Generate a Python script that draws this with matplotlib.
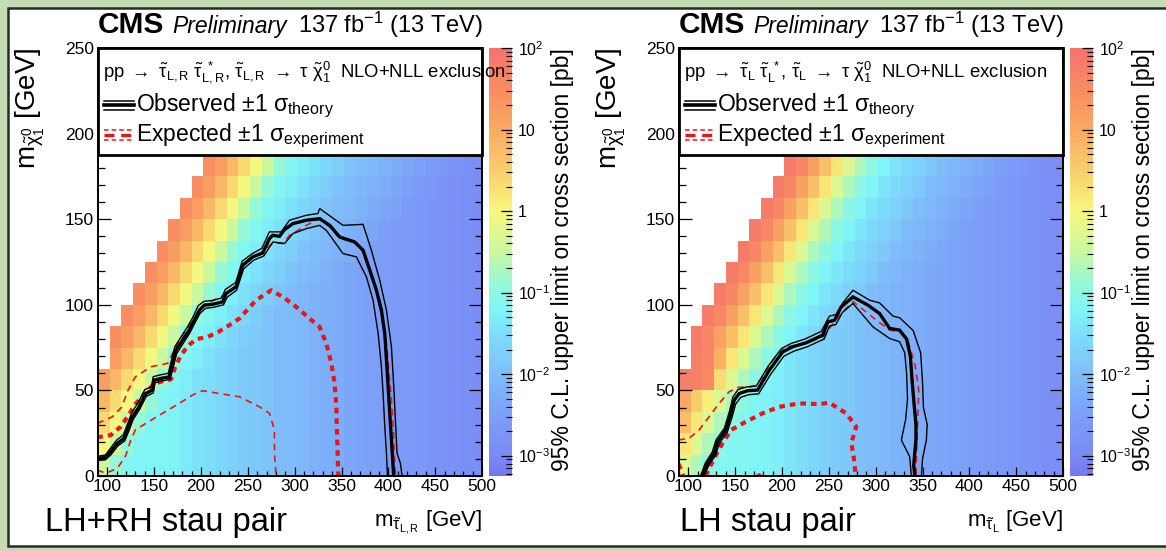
import numpy as np
import matplotlib
matplotlib.use("Agg")
import matplotlib.pyplot as plt
from matplotlib.colors import LinearSegmentedColormap, LogNorm
from matplotlib.patches import Rectangle
from matplotlib.lines import Line2D
from matplotlib.ticker import MultipleLocator, LogLocator, FixedLocator, FixedFormatter

plt.rcParams['font.family'] = ['Liberation Sans', 'DejaVu Sans']
plt.rcParams['mathtext.fontset'] = 'custom'
plt.rcParams['mathtext.rm'] = 'Liberation Sans'
plt.rcParams['mathtext.it'] = 'Liberation Sans:italic'
plt.rcParams['mathtext.bf'] = 'Liberation Sans:bold'
plt.rcParams['mathtext.sf'] = 'Liberation Sans'

# ---------------- data ----------------
# bin grid (GeV)
x_edges = np.arange(90.0, 503.0, 12.5)     # m_stau bins
y_edges = np.arange(0.0, 188.0, 12.5)      # m_LSP bins (visible below legend)

# log10 of 95% CL upper limit [pb], rows = m_LSP bins (bottom -> top), 'nan' = no point
limit_LR_rows = [
 "-0.5 -0.9 -1.15 -1.2 -1.2 -1.2 -1.25 -1.35 -1.45 -1.5 -1.6 -1.7 -1.8 -1.85 -1.9 -2.0 -2.05 -2.1 -2.2 -2.25 -2.3 -2.4 -2.45 -2.5 -2.55 -2.6 -2.65 -2.7 -2.75 -2.8 -2.82 -2.85 -2.9",
 "-0.05 -0.5 -0.9 -1.15 -1.2 -1.2 -1.25 -1.35 -1.45 -1.5 -1.6 -1.7 -1.8 -1.85 -1.9 -2.0 -2.05 -2.1 -2.2 -2.25 -2.3 -2.4 -2.45 -2.5 -2.55 -2.6 -2.65 -2.7 -2.75 -2.8 -2.82 -2.85 -2.9",
 "0.35 -0.05 -0.5 -0.9 -1.15 -1.2 -1.25 -1.35 -1.45 -1.5 -1.6 -1.7 -1.8 -1.85 -1.9 -2.0 -2.05 -2.1 -2.2 -2.25 -2.3 -2.4 -2.45 -2.5 -2.55 -2.6 -2.65 -2.7 -2.75 -2.8 -2.82 -2.85 -2.9",
 "0.8 0.35 -0.05 -0.5 -0.9 -1.15 -1.25 -1.35 -1.45 -1.5 -1.6 -1.7 -1.8 -1.85 -1.9 -2.0 -2.05 -2.1 -2.2 -2.25 -2.3 -2.4 -2.45 -2.5 -2.55 -2.6 -2.65 -2.7 -2.75 -2.8 -2.82 -2.85 -2.9",
 "1.2 0.8 0.35 -0.05 -0.5 -0.9 -1.15 -1.3 -1.45 -1.5 -1.6 -1.7 -1.8 -1.85 -1.9 -2.0 -2.05 -2.1 -2.2 -2.25 -2.3 -2.4 -2.45 -2.5 -2.55 -2.6 -2.65 -2.7 -2.75 -2.8 -2.82 -2.85 -2.9",
 "nan 1.2 0.8 0.35 -0.05 -0.5 -0.9 -1.15 -1.3 -1.45 -1.6 -1.7 -1.8 -1.85 -1.9 -2.0 -2.05 -2.1 -2.2 -2.25 -2.3 -2.4 -2.45 -2.5 -2.55 -2.6 -2.65 -2.7 -2.75 -2.8 -2.82 -2.85 -2.9",
 "nan 1.45 1.2 0.8 0.35 -0.05 -0.5 -0.9 -1.15 -1.3 -1.45 -1.6 -1.75 -1.85 -1.9 -2.0 -2.05 -2.1 -2.2 -2.25 -2.3 -2.4 -2.45 -2.5 -2.55 -2.6 -2.65 -2.7 -2.75 -2.8 -2.82 -2.85 -2.9",
 "nan nan 1.45 1.2 0.8 0.35 -0.05 -0.5 -0.9 -1.15 -1.3 -1.45 -1.6 -1.75 -1.9 -2.0 -2.05 -2.1 -2.2 -2.25 -2.3 -2.4 -2.45 -2.5 -2.55 -2.6 -2.65 -2.7 -2.75 -2.8 -2.82 -2.85 -2.9",
 "nan nan nan 1.45 1.2 0.8 0.35 -0.05 -0.5 -0.9 -1.15 -1.3 -1.45 -1.6 -1.75 -1.9 -2.0 -2.1 -2.2 -2.25 -2.3 -2.4 -2.45 -2.5 -2.55 -2.6 -2.65 -2.7 -2.75 -2.8 -2.82 -2.85 -2.9",
 "nan nan nan nan 1.45 1.2 0.8 0.35 -0.05 -0.5 -0.9 -1.15 -1.3 -1.45 -1.6 -1.75 -1.9 -2.0 -2.1 -2.2 -2.3 -2.4 -2.45 -2.5 -2.55 -2.6 -2.65 -2.7 -2.75 -2.8 -2.82 -2.85 -2.9",
 "nan nan nan nan nan 1.45 1.2 0.8 0.35 -0.05 -0.5 -0.9 -1.15 -1.3 -1.45 -1.6 -1.75 -1.9 -2.0 -2.1 -2.2 -2.3 -2.4 -2.5 -2.55 -2.6 -2.65 -2.7 -2.75 -2.8 -2.82 -2.85 -2.9",
 "nan nan nan nan nan nan 1.45 1.2 0.8 0.35 -0.05 -0.5 -0.9 -1.15 -1.3 -1.45 -1.6 -1.75 -1.9 -2.0 -2.1 -2.2 -2.3 -2.4 -2.5 -2.6 -2.65 -2.7 -2.75 -2.8 -2.82 -2.85 -2.9",
 "nan nan nan nan nan nan nan 1.45 1.2 0.8 0.35 -0.05 -0.5 -0.9 -1.15 -1.3 -1.45 -1.6 -1.75 -1.9 -2.0 -2.1 -2.2 -2.3 -2.4 -2.5 -2.6 -2.7 -2.75 -2.8 -2.82 -2.85 -2.9",
 "nan nan nan nan nan nan nan nan 1.45 1.2 0.8 0.35 -0.05 -0.5 -0.9 -1.15 -1.3 -1.45 -1.6 -1.75 -1.9 -2.0 -2.1 -2.2 -2.3 -2.4 -2.5 -2.6 -2.7 -2.8 -2.82 -2.85 -2.9",
 "nan nan nan nan nan nan nan nan nan 1.45 1.2 0.8 0.35 -0.05 -0.5 -0.9 -1.15 -1.3 -1.45 -1.6 -1.75 -1.9 -2.0 -2.1 -2.2 -2.3 -2.4 -2.5 -2.6 -2.7 -2.8 -2.85 -2.9",
]
limit_L_rows = [
 "-0.3 -0.7 -1.0 -1.1 -1.15 -1.15 -1.2 -1.25 -1.3 -1.4 -1.5 -1.6 -1.7 -1.8 -1.85 -1.95 -2.0 -2.1 -2.15 -2.2 -2.3 -2.35 -2.4 -2.45 -2.5 -2.55 -2.6 -2.65 -2.7 -2.75 -2.8 -2.85 -2.9",
 "0.2 -0.3 -0.7 -1.0 -1.15 -1.15 -1.2 -1.25 -1.3 -1.4 -1.5 -1.6 -1.7 -1.8 -1.85 -1.95 -2.0 -2.1 -2.15 -2.2 -2.3 -2.35 -2.4 -2.45 -2.5 -2.55 -2.6 -2.65 -2.7 -2.75 -2.8 -2.85 -2.9",
 "0.7 0.2 -0.3 -0.7 -1.0 -1.15 -1.2 -1.25 -1.3 -1.4 -1.5 -1.6 -1.7 -1.8 -1.85 -1.95 -2.0 -2.1 -2.15 -2.2 -2.3 -2.35 -2.4 -2.45 -2.5 -2.55 -2.6 -2.65 -2.7 -2.75 -2.8 -2.85 -2.9",
 "1.0 0.5 0.1 -0.3 -0.7 -1.0 -1.2 -1.25 -1.3 -1.4 -1.5 -1.6 -1.7 -1.8 -1.85 -1.95 -2.0 -2.1 -2.15 -2.2 -2.3 -2.35 -2.4 -2.45 -2.5 -2.55 -2.6 -2.65 -2.7 -2.75 -2.8 -2.85 -2.9",
 "1.75 1.7 1.55 0.3 -0.3 -0.7 -1.0 -1.2 -1.3 -1.4 -1.5 -1.6 -1.7 -1.8 -1.85 -1.95 -2.0 -2.1 -2.15 -2.2 -2.3 -2.35 -2.4 -2.45 -2.5 -2.55 -2.6 -2.65 -2.7 -2.75 -2.8 -2.85 -2.9",
 "nan 1.75 1.6 0.9 0.2 -0.3 -0.7 -1.0 -1.2 -1.4 -1.5 -1.6 -1.7 -1.8 -1.85 -1.95 -2.0 -2.1 -2.15 -2.2 -2.3 -2.35 -2.4 -2.45 -2.5 -2.55 -2.6 -2.65 -2.7 -2.75 -2.8 -2.85 -2.9",
 "nan 1.8 1.6 1.15 0.7 0.2 -0.3 -0.7 -1.0 -1.2 -1.4 -1.55 -1.7 -1.8 -1.85 -1.95 -2.0 -2.1 -2.15 -2.2 -2.3 -2.35 -2.4 -2.45 -2.5 -2.55 -2.6 -2.65 -2.7 -2.75 -2.8 -2.85 -2.9",
 "nan nan 1.8 1.6 1.15 0.7 0.2 -0.3 -0.7 -1.0 -1.2 -1.4 -1.55 -1.7 -1.85 -1.95 -2.0 -2.1 -2.15 -2.2 -2.3 -2.35 -2.4 -2.45 -2.5 -2.55 -2.6 -2.65 -2.7 -2.75 -2.8 -2.85 -2.9",
 "nan nan nan 1.8 1.6 1.15 0.7 0.2 -0.3 -0.7 -1.0 -1.2 -1.4 -1.55 -1.7 -1.85 -2.0 -2.1 -2.15 -2.2 -2.3 -2.35 -2.4 -2.45 -2.5 -2.55 -2.6 -2.65 -2.7 -2.75 -2.8 -2.85 -2.9",
 "nan nan nan nan 1.8 1.6 1.15 0.7 0.2 -0.3 -0.7 -1.0 -1.2 -1.4 -1.55 -1.7 -1.85 -2.0 -2.1 -2.2 -2.3 -2.35 -2.4 -2.45 -2.5 -2.55 -2.6 -2.65 -2.7 -2.75 -2.8 -2.85 -2.9",
 "nan nan nan nan nan 1.8 1.6 1.15 0.7 0.2 -0.3 -0.7 -1.0 -1.2 -1.4 -1.55 -1.7 -1.85 -2.0 -2.1 -2.2 -2.3 -2.4 -2.45 -2.5 -2.55 -2.6 -2.65 -2.7 -2.75 -2.8 -2.85 -2.9",
 "nan nan nan nan nan nan 1.8 1.6 1.15 0.7 0.2 -0.3 -0.7 -1.0 -1.2 -1.4 -1.55 -1.7 -1.85 -2.0 -2.1 -2.2 -2.3 -2.4 -2.5 -2.55 -2.6 -2.65 -2.7 -2.75 -2.8 -2.85 -2.9",
 "nan nan nan nan nan nan nan 1.8 1.6 1.15 0.7 0.2 -0.3 -0.7 -1.0 -1.2 -1.4 -1.55 -1.7 -1.85 -2.0 -2.1 -2.2 -2.3 -2.4 -2.5 -2.6 -2.65 -2.7 -2.75 -2.8 -2.85 -2.9",
 "nan nan nan nan nan nan nan nan 1.8 1.6 1.15 0.7 0.2 -0.3 -0.7 -1.0 -1.2 -1.4 -1.55 -1.7 -1.85 -2.0 -2.1 -2.2 -2.3 -2.4 -2.5 -2.6 -2.7 -2.75 -2.8 -2.85 -2.9",
 "nan nan nan nan nan nan nan nan nan 1.8 1.6 1.15 0.7 0.2 -0.3 -0.7 -1.0 -1.2 -1.4 -1.55 -1.7 -1.85 -2.0 -2.1 -2.2 -2.3 -2.4 -2.5 -2.6 -2.7 -2.8 -2.85 -2.9",
]

# exclusion contours (m_stau, m_LSP) in GeV -- LH+RH
obs_LR_x = [89.3, 98.2, 103.6, 110.7, 117.8, 122.5, 126.8, 133.9, 141.0, 148.2, 150.0, 157.1, 166.0, 173.2, 180.3, 187.4, 192.8, 198.2, 203.5, 212.4, 223.1, 226.7, 237.4, 244.5, 255.2, 265.9, 273.1, 276.6, 283.8, 289.1, 298.0, 312.3, 326.7, 337.4, 348.1, 364.1, 373.0, 380.2, 387.3, 392.6, 396.2, 398.0, 399.8, 401.5, 403.3, 405.1, 405.8]
obs_LR_y = [10.3, 10.9, 14.2, 19.1, 22.0, 28.8, 34.6, 40.4, 48.2, 50.2, 56.0, 57.0, 57.9, 73.5, 79.3, 85.2, 91.0, 96.8, 99.8, 100.3, 101.7, 106.6, 110.5, 123.1, 128.0, 130.3, 138.7, 140.6, 140.0, 143.9, 147.4, 149.4, 150.3, 146.4, 139.6, 136.7, 131.9, 120.2, 108.5, 96.8, 83.2, 67.7, 52.1, 36.6, 21.0, 5.4, 0.0]
obs_up_LR_x = [89.3, 98.0, 103.0, 110.0, 117.0, 122.0, 126.0, 133.0, 140.0, 147.0, 149.0, 156.0, 165.0, 172.0, 179.0, 186.0, 192.0, 197.0, 203.0, 212.0, 222.0, 226.0, 237.0, 244.0, 255.0, 265.0, 273.0, 285.6, 294.5, 312.4, 324.8, 326.7, 351.6, 373.0, 381.9, 390.8, 398.0, 403.3, 405.8, 407.9, 409.3, 412.9, 414.7]
obs_up_LR_y = [11.5, 12.3, 16.0, 21.0, 24.0, 31.0, 37.0, 43.0, 50.5, 52.0, 58.0, 59.0, 60.0, 75.5, 81.5, 87.5, 93.5, 99.5, 102.0, 102.5, 104.0, 109.0, 113.0, 125.5, 130.0, 133.0, 142.6, 142.6, 149.4, 152.3, 153.3, 156.2, 146.4, 147.0, 131.9, 114.4, 96.8, 75.4, 52.1, 28.8, 13.2, 7.4, 0.0]
obs_dn_LR_x = [89.3, 98.0, 104.0, 111.0, 118.5, 123.5, 127.5, 134.5, 141.5, 149.0, 151.0, 158.0, 167.0, 174.0, 181.0, 188.0, 193.5, 199.0, 205.0, 213.0, 224.0, 228.0, 238.0, 245.5, 256.0, 267.0, 276.8, 289.2, 298.1, 312.4, 326.7, 333.8, 351.6, 365.9, 376.6, 383.7, 389.1, 392.6, 394.4, 396.2, 398.0, 399.1]
obs_dn_LR_y = [9.0, 9.5, 12.5, 17.5, 20.5, 27.0, 33.0, 39.0, 46.5, 48.5, 54.5, 55.5, 56.5, 71.5, 77.5, 83.5, 89.5, 95.0, 98.0, 98.5, 100.0, 104.5, 108.5, 121.0, 126.0, 128.5, 136.7, 135.8, 141.6, 144.5, 146.4, 143.5, 129.9, 128.0, 116.3, 102.7, 83.2, 63.8, 48.2, 28.8, 13.2, 0.0]
exp_LR_x = [89.3, 103.6, 114.3, 122.0, 130.0, 140.0, 150.0, 160.0, 168.0, 172.0, 178.0, 186.0, 195.0, 206.0, 218.0, 230.0, 241.0, 258.8, 274.9, 287.4, 301.6, 315.9, 326.6, 333.8, 339.1, 342.7, 344.5, 345.2, 346.3, 346.6]
exp_LR_y = [22.6, 23.9, 28.8, 35.0, 42.0, 48.0, 54.0, 55.5, 56.5, 63.0, 70.0, 76.0, 80.0, 81.0, 84.0, 88.0, 92.0, 102.7, 108.5, 104.6, 98.8, 92.0, 87.1, 77.4, 65.8, 54.1, 40.4, 24.9, 5.4, 0.0]
exp_up_LR_x = [89.3, 105.4, 115.0, 122.0, 130.0, 146.5, 164.3, 173.2, 184.0, 194.6, 203.0, 226.0, 237.0, 244.0, 255.0, 266.0, 276.8, 287.4, 294.5, 312.4, 326.7, 339.1, 348.1, 364.1, 374.8, 383.7, 390.8, 398.0, 401.5, 404.4, 405.8, 406.9, 408.0]
exp_up_LR_y = [30.7, 34.6, 40.0, 50.0, 58.0, 63.8, 65.8, 75.5, 85.2, 93.0, 100.0, 106.0, 111.0, 122.0, 128.0, 131.0, 136.3, 135.8, 140.6, 146.4, 150.3, 144.5, 138.7, 136.7, 129.9, 114.4, 98.8, 77.4, 56.0, 36.6, 21.0, 5.4, 0.0]
exp_dn_LR_x = [89.3, 98.3, 110.7, 119.7, 125.0, 130.0, 141.0, 158.9, 176.7, 191.0, 201.7, 219.6, 241.0, 262.4, 273.1, 278.4, 278.4, 280.1]
exp_dn_LR_y = [3.5, 1.6, 4.5, 12.0, 21.0, 27.0, 30.7, 36.6, 42.4, 47.3, 49.8, 48.2, 46.3, 40.4, 36.6, 26.8, 13.2, 0.0]

# exclusion contours -- LH only
obs_L_x = [115.0, 120.3, 127.5, 131.1, 140.0, 145.4, 149.0, 154.3, 163.2, 173.9, 186.4, 200.7, 211.4, 225.7, 243.5, 248.9, 256.0, 263.2, 275.7, 291.7, 304.2, 314.9, 325.6, 333.0, 337.0, 339.0, 341.0, 343.0, 343.0, 341.5, 340.6, 342.0]
obs_L_y = [0.0, 7.4, 13.2, 20.0, 26.8, 36.6, 44.3, 48.2, 49.8, 50.2, 61.8, 72.5, 75.5, 77.8, 82.3, 90.0, 91.0, 98.8, 104.6, 99.8, 94.9, 86.2, 85.2, 80.0, 70.0, 55.0, 42.0, 30.0, 21.0, 12.0, 6.0, 0.0]
obs_up_L_x = [113.0, 118.0, 125.5, 129.5, 138.5, 144.0, 147.5, 153.0, 162.0, 172.5, 185.0, 199.5, 210.0, 224.5, 242.0, 250.6, 257.7, 264.9, 275.7, 293.5, 304.2, 318.5, 325.6, 340.0, 348.0, 350.0, 351.0, 355.0, 354.1, 350.0, 348.8]
obs_up_L_y = [0.0, 7.5, 14.0, 21.0, 28.0, 38.0, 46.0, 50.5, 52.0, 52.5, 64.0, 74.5, 77.5, 80.0, 84.5, 93.4, 94.3, 101.1, 108.5, 102.7, 101.1, 93.4, 92.4, 85.0, 72.0, 55.0, 40.0, 30.0, 21.0, 10.0, 0.0]
obs_dn_L_x = [117.0, 122.0, 129.0, 133.0, 141.5, 147.0, 150.5, 156.0, 164.5, 175.0, 188.0, 202.0, 213.0, 227.0, 245.0, 250.5, 257.5, 264.5, 275.7, 297.1, 315.0, 325.6, 331.0, 333.0, 334.0, 332.0, 327.4, 336.3, 338.1]
obs_dn_L_y = [0.0, 6.5, 12.0, 19.0, 25.5, 35.0, 42.0, 46.0, 47.5, 48.0, 59.5, 70.0, 73.0, 75.5, 80.0, 87.5, 88.5, 95.5, 100.8, 87.1, 80.3, 78.4, 72.0, 60.0, 45.0, 33.0, 21.0, 11.3, 0.0]
exp_L_x = [118.6, 124.0, 127.5, 131.1, 136.4, 145.4, 161.4, 179.2, 197.1, 218.5, 239.9, 250.6, 268.5, 279.2, 273.9, 275.7, 277.4, 278.5]
exp_L_y = [0.0, 6.4, 10.3, 14.0, 19.1, 26.8, 31.7, 36.6, 40.4, 42.4, 42.0, 42.8, 36.6, 28.8, 19.1, 14.2, 7.4, 0.0]
exp_corner_L_x = [89.5, 92.0, 94.6]
exp_corner_L_y = [7.0, 4.0, 0.0]
exp_up_L_x = [89.3, 100.7, 111.4, 122.1, 132.8, 143.6, 152.5, 165.0, 172.2, 179.3, 186.4, 193.6, 204.3, 222.1, 243.5, 254.2, 265.0, 275.7, 283.0, 300.7, 315.0, 325.6, 335.0, 342.0, 346.0, 345.0, 344.0, 343.0]
exp_up_L_y = [21.0, 22.0, 26.8, 34.6, 42.4, 49.2, 51.7, 52.1, 53.0, 57.8, 64.6, 70.4, 75.3, 77.2, 81.1, 88.9, 96.0, 102.0, 98.8, 91.0, 85.2, 84.2, 78.0, 65.0, 50.0, 35.0, 20.0, 0.0]
exp_dn_L_x = [172.0, 175.7, 179.0]
exp_dn_L_y = [0.0, 1.2, 0.0]

# colour scale of the limit (log10 pb) and its colours
cmap_levels = [-3.25, -3.0, -2.5, -2.0, -1.5, -1.2, -0.9, -0.5, 0.0, 0.5, 1.0, 1.5, 2.0]
cmap_colors = ['#7676f0', '#7a8af6', '#7ca0f8', '#7ebefa', '#7edefa', '#80f6f8', '#96f8d7',
               '#c8f8a0', '#f8f87d', '#facd6c', '#faaa64', '#f88c62', '#f5736e']

RED = '#e8161a'

# ---------------- figure ----------------
W, H = 1166, 551
fig = plt.figure(figsize=(W / 100, H / 100), dpi=100)
fig.patch.set_facecolor('#c6dcb6')
fig.add_artist(Rectangle((8 / W, 5 / H), 1.0, 1 - 13 / H, transform=fig.transFigure,
                         facecolor='white', edgecolor='#2a2a2a', lw=1.8, zorder=-1))

lo, hi = cmap_levels[0], cmap_levels[-1]
cmap = LinearSegmentedColormap.from_list(
    'rootlike', [((v - lo) / (hi - lo), c) for v, c in zip(cmap_levels, cmap_colors)])
norm = LogNorm(vmin=10 ** lo, vmax=10 ** hi)


def parse(rows):
    return np.array([[float(v) for v in r.split()] for r in rows])


def panel(x0, table, curves, xlabel, proc):
    ax = fig.add_axes([x0 / W, 75 / H, 384 / W, 428 / H])
    ax.set_zorder(2)
    Z = np.ma.masked_invalid(10 ** parse(table))
    mesh = ax.pcolormesh(x_edges, y_edges, Z, cmap=cmap, norm=norm, shading='flat', zorder=1)
    ax.set_xlim(90, 500)
    ax.set_ylim(0, 250)

    for (xs, ys, kind) in curves:
        if kind == 'obs':
            ax.plot(xs, ys, color='black', lw=2.4, zorder=4, solid_joinstyle='miter')
        elif kind == 'obs_band':
            ax.plot(xs, ys, color='black', lw=1.0, zorder=4)
        elif kind == 'exp':
            ax.plot(xs, ys, color=RED, lw=3.0, ls=(0, (1.35, 1.2)), zorder=3)
        else:
            ax.plot(xs, ys, color=RED, lw=1.2, ls=(0, (4, 3)), zorder=3)

    ax.xaxis.set_major_locator(MultipleLocator(50))
    ax.xaxis.set_minor_locator(MultipleLocator(10))
    ax.yaxis.set_major_locator(MultipleLocator(50))
    ax.yaxis.set_minor_locator(MultipleLocator(10))
    ax.tick_params(axis='x', which='major', direction='in', top=True, length=6.5, width=0.9,
                   labelsize=12.5, pad=2)
    ax.tick_params(axis='x', which='minor', direction='in', top=True, length=3.5, width=0.9)
    ax.tick_params(axis='y', which='major', direction='in', right=True, length=9.5, width=0.9,
                   labelsize=12.5, pad=3)
    ax.tick_params(axis='y', which='minor', direction='in', right=True, length=5, width=0.9)
    for s in ax.spines.values():
        s.set_linewidth(1.4)
        s.set_zorder(8)

    ax.set_ylabel(r'$\mathrm{m}_{\tilde{\mathrm{\chi}}^{0}_{1}}$ [GeV]', fontsize=20,
                  rotation=90, ha='right', va='center')
    ax.yaxis.set_label_coords(-0.178, 1.0)
    ax.set_xlabel(xlabel, fontsize=16, ha='right', va='center')
    ax.xaxis.set_label_coords(1.0, -0.107)

    # legend box on top
    ax.add_patch(Rectangle((0, 0.75), 1, 0.25, transform=ax.transAxes, facecolor='white',
                           edgecolor='black', lw=2.0, zorder=6, clip_on=False))
    ax.text(0.014, 0.943, proc, transform=ax.transAxes, fontsize=13.3, va='center',
            ha='left', zorder=7, clip_on=False)
    ly1, ly2 = 0.866, 0.796
    kx = [0.016, 0.094]
    for dy, lw in [(0.010, 1.1), (0.0, 2.6), (-0.010, 1.1)]:
        ax.add_line(Line2D(kx, [ly1 + dy] * 2, transform=ax.transAxes, color='black', lw=lw,
                           zorder=7))
    for dy, lw, ls in [(0.012, 1.1, (0, (3, 2))), (0.0, 2.4, (0, (3, 2))),
                       (-0.012, 1.1, (0, (3, 2)))]:
        ax.add_line(Line2D(kx, [ly2 + dy] * 2, transform=ax.transAxes, color=RED, lw=lw,
                           ls=ls, zorder=7))
    ax.text(0.1, ly1, r'Observed $\pm$1 $\mathrm{\sigma}_{\mathrm{theory}}$',
            transform=ax.transAxes, fontsize=16.5, va='center', zorder=7)
    ax.text(0.1, ly2, r'Expected $\pm$1 $\mathrm{\sigma}_{\mathrm{experiment}}$',
            transform=ax.transAxes, fontsize=16.5, va='center', zorder=7)

    # colour bar
    cax = fig.add_axes([(x0 + 391) / W, 75 / H, 23 / W, 428 / H])
    cax.set_zorder(1)
    cb = fig.colorbar(mesh, cax=cax)
    cb.outline.set_visible(False)
    cax.yaxis.set_major_locator(FixedLocator([1e-3, 1e-2, 1e-1, 1, 10, 100]))
    cax.yaxis.set_major_formatter(FixedFormatter(
        [r'$10^{-3}$', r'$10^{-2}$', r'$10^{-1}$', '1', '10', r'$10^{2}$']))
    cax.yaxis.set_minor_locator(LogLocator(base=10, subs=np.arange(2, 10)))
    cax.yaxis.set_minor_formatter(FixedFormatter([]))
    cax.tick_params(which='major', direction='in', length=8, width=0.9, labelsize=11.5, pad=4)
    cax.tick_params(which='minor', direction='in', length=4, width=0.8)
    cb.set_label('95% C.L. upper limit on cross section [pb]', fontsize=16.5, rotation=90,
                 ha='right', va='center')
    cax.yaxis.set_label_coords(3.2, 1.0)

    # header
    fig.text(x0 / W, 1 - 33 / H, 'CMS', fontsize=21.5, fontweight='bold', ha='left',
             va='baseline')
    fig.text((x0 + 74) / W, 1 - 33 / H, 'Preliminary', fontsize=16.5, style='italic',
             ha='left', va='baseline')
    fig.text((x0 + 385) / W, 1 - 33 / H, r'137 fb$^{-1}$ (13 TeV)', fontsize=17,
             ha='right', va='baseline')
    return ax


proc_LR = (r'pp $\rightarrow$ $\tilde{\mathrm{\tau}}_{\mathrm{L,R}}$ '
           r'$\tilde{\mathrm{\tau}}_{\mathrm{L,R}}^{\ *}$, '
           r'$\tilde{\mathrm{\tau}}_{\mathrm{L,R}}$ $\rightarrow$ $\mathrm{\tau}$ '
           r'$\tilde{\mathrm{\chi}}^{0}_{1}$  NLO+NLL exclusion')
proc_L = (r'pp $\rightarrow$ $\tilde{\mathrm{\tau}}_{\mathrm{L}}$ '
          r'$\tilde{\mathrm{\tau}}_{\mathrm{L}}^{\ *}$, '
          r'$\tilde{\mathrm{\tau}}_{\mathrm{L}}$ $\rightarrow$ $\mathrm{\tau}$ '
          r'$\tilde{\mathrm{\chi}}^{0}_{1}$  NLO+NLL exclusion')

curves_LR = [(exp_dn_LR_x, exp_dn_LR_y, 'exp_band'), (exp_up_LR_x, exp_up_LR_y, 'exp_band'),
             (exp_LR_x, exp_LR_y, 'exp'),
             (obs_up_LR_x, obs_up_LR_y, 'obs_band'), (obs_dn_LR_x, obs_dn_LR_y, 'obs_band'),
             (obs_LR_x, obs_LR_y, 'obs')]
curves_L = [(exp_dn_L_x, exp_dn_L_y, 'exp_band'), (exp_up_L_x, exp_up_L_y, 'exp_band'),
            (exp_L_x, exp_L_y, 'exp'), (exp_corner_L_x, exp_corner_L_y, 'exp'),
            (obs_up_L_x, obs_up_L_y, 'obs_band'), (obs_dn_L_x, obs_dn_L_y, 'obs_band'),
            (obs_L_x, obs_L_y, 'obs')]

panel(98, limit_LR_rows, curves_LR,
      r'$\mathrm{m}_{\tilde{\mathrm{\tau}}_{\mathrm{L,R}}}$ [GeV]', proc_LR)
panel(679, limit_L_rows, curves_L,
      r'$\mathrm{m}_{\tilde{\mathrm{\tau}}_{\mathrm{L}}}$ [GeV]', proc_L)

fig.text(45 / W, 1 - 522 / H, 'LH+RH stau pair', fontsize=23.5, ha='left', va='center')
fig.text(680 / W, 1 - 522 / H, 'LH stau pair', fontsize=23.5, ha='left', va='center')

fig.savefig('out.png', dpi=100, facecolor=fig.get_facecolor())
